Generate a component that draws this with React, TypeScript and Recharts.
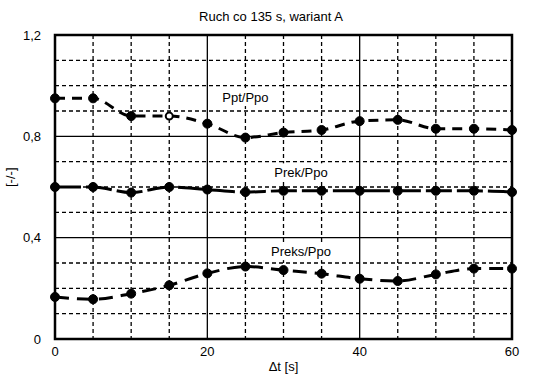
import React from "react";
import {
  CartesianGrid,
  Line,
  LineChart,
  ReferenceArea,
  ReferenceDot,
  XAxis,
  YAxis,
} from "recharts";

const times = [0, 5, 10, 15, 20, 25, 30, 35, 40, 45, 50, 55, 60];
const pptPpo = [0.95, 0.95, 0.88, 0.88, 0.85, 0.795, 0.815, 0.825, 0.86, 0.865, 0.83, 0.83, 0.825];
const prekPpo = [0.6, 0.6, 0.578, 0.6, 0.59, 0.58, 0.585, 0.585, 0.585, 0.585, 0.585, 0.585, 0.58];
const preksPpo = [0.166, 0.157, 0.179, 0.212, 0.259, 0.286, 0.272, 0.258, 0.238, 0.229, 0.255, 0.278, 0.278];

const xTicks = [0, 20, 40, 60];
const yTicks = [0, 0.4, 0.8, 1.2];
const xMinor = [5, 10, 15, 25, 30, 35, 45, 50, 55];
const yMinor = [0.1, 0.2, 0.3, 0.5, 0.6, 0.7, 0.9, 1.0, 1.1];
const openPoints = { ppt: [3] };

const seriesLabels = [
  { text: "Ppt/Ppo", x: 25, y: 0.955 },
  { text: "Prek/Ppo", x: 32.3, y: 0.658 },
  { text: "Preks/Ppo", x: 32.3, y: 0.347 },
];

const data = times.map((t, i) => ({
  t,
  ppt: pptPpo[i],
  prek: prekPpo[i],
  preks: preksPpo[i],
}));

const font = "'Liberation Sans', Arial, sans-serif";

function Dot(props: any) {
  const { cx, cy, index, dataKey } = props;
  if (cx == null || cy == null) return null;
  const open = (openPoints as any)[dataKey]?.includes(index);
  return (
    <circle
      cx={cx}
      cy={cy}
      r={open ? 3.5 : 4.5}
      fill={open ? "#fff" : "#000"}
      stroke="#000"
      strokeWidth={open ? 2 : 1}
    />
  );
}

function boxedLabel(text: string) {
  return (props: any) => {
    const vb = props.viewBox || {};
    const cx = vb.x + (vb.width || 0) / 2;
    const cy = vb.y + (vb.height || 0) / 2;
    const w = text.length * 7.6 + 6;
    return (
      <g>
        <rect x={cx - w / 2} y={cy - 9} width={w} height={18} fill="#fff" />
        <text
          x={cx}
          y={cy}
          textAnchor="middle"
          dominantBaseline="central"
          fontSize={13}
          fill="#000"
          fontFamily={font}
        >
          {text}
        </text>
      </g>
    );
  };
}

export default function App() {
  return (
    <div
      style={{
        position: "absolute",
        left: 0,
        top: 0,
        width: 554,
        height: 376,
        background: "#fff",
        fontFamily: font,
      }}
    >
      <div
        style={{
          position: "absolute",
          left: 0,
          width: 542,
          top: 9,
          textAlign: "center",
          fontSize: 13,
          color: "#000",
        }}
      >
        Ruch co 135 s, wariant A
      </div>
      <LineChart
        width={554}
        height={376}
        data={data}
        margin={{ top: 35, right: 42, bottom: 0, left: 0 }}
        style={{ fontFamily: font }}
      >
        <CartesianGrid
          stroke="#000"
          strokeWidth={1.3}
          strokeDasharray="4 3"
          horizontalValues={yMinor}
          verticalValues={xMinor}
        />
        <CartesianGrid
          stroke="#000"
          strokeWidth={1.3}
          horizontalValues={yTicks}
          verticalValues={xTicks}
        />
        <XAxis
          dataKey="t"
          type="number"
          domain={[0, 60]}
          ticks={xTicks}
          tickLine={false}
          axisLine={false}
          height={37}
          tick={{ fill: "#000", fontSize: 13 }}
          tickMargin={2}
          label={{
            value: "\u0394t [s]",
            position: "insideBottom",
            offset: 5,
            fill: "#000",
            fontSize: 13,
          }}
        />
        <YAxis
          type="number"
          domain={[0, 1.2]}
          ticks={yTicks}
          width={55}
          tickLine={false}
          axisLine={false}
          tickFormatter={(v: number) => String(v).replace(".", ",")}
          tick={{ fill: "#000", fontSize: 13 }}
          tickMargin={8}
          label={{
            value: "[-/-]",
            angle: -90,
            position: "insideLeft",
            offset: 10,
            fill: "#000",
            fontSize: 13,
          }}
        />
        {seriesLabels.map((l) => (
          <ReferenceDot
            key={l.text}
            x={l.x}
            y={l.y}
            r={0}
            fill="none"
            stroke="none"
            label={boxedLabel(l.text)}
          />
        ))}
        <Line
          type="monotone"
          dataKey="ppt"
          stroke="#000"
          strokeWidth={3}
          strokeDasharray="10 7"
          dot={<Dot />}
          isAnimationActive={false}
        />
        <Line
          type="monotone"
          dataKey="prek"
          stroke="#000"
          strokeWidth={3}
          strokeDasharray="26 5"
          dot={<Dot />}
          isAnimationActive={false}
        />
        <Line
          type="monotone"
          dataKey="preks"
          stroke="#000"
          strokeWidth={3}
          strokeDasharray="14 8"
          dot={<Dot />}
          isAnimationActive={false}
        />
        <ReferenceArea
          x1={0}
          x2={60}
          y1={0}
          y2={1.2}
          fill="none"
          stroke="#000"
          strokeWidth={2.5}
          fillOpacity={0}
        />
      </LineChart>
    </div>
  );
}
